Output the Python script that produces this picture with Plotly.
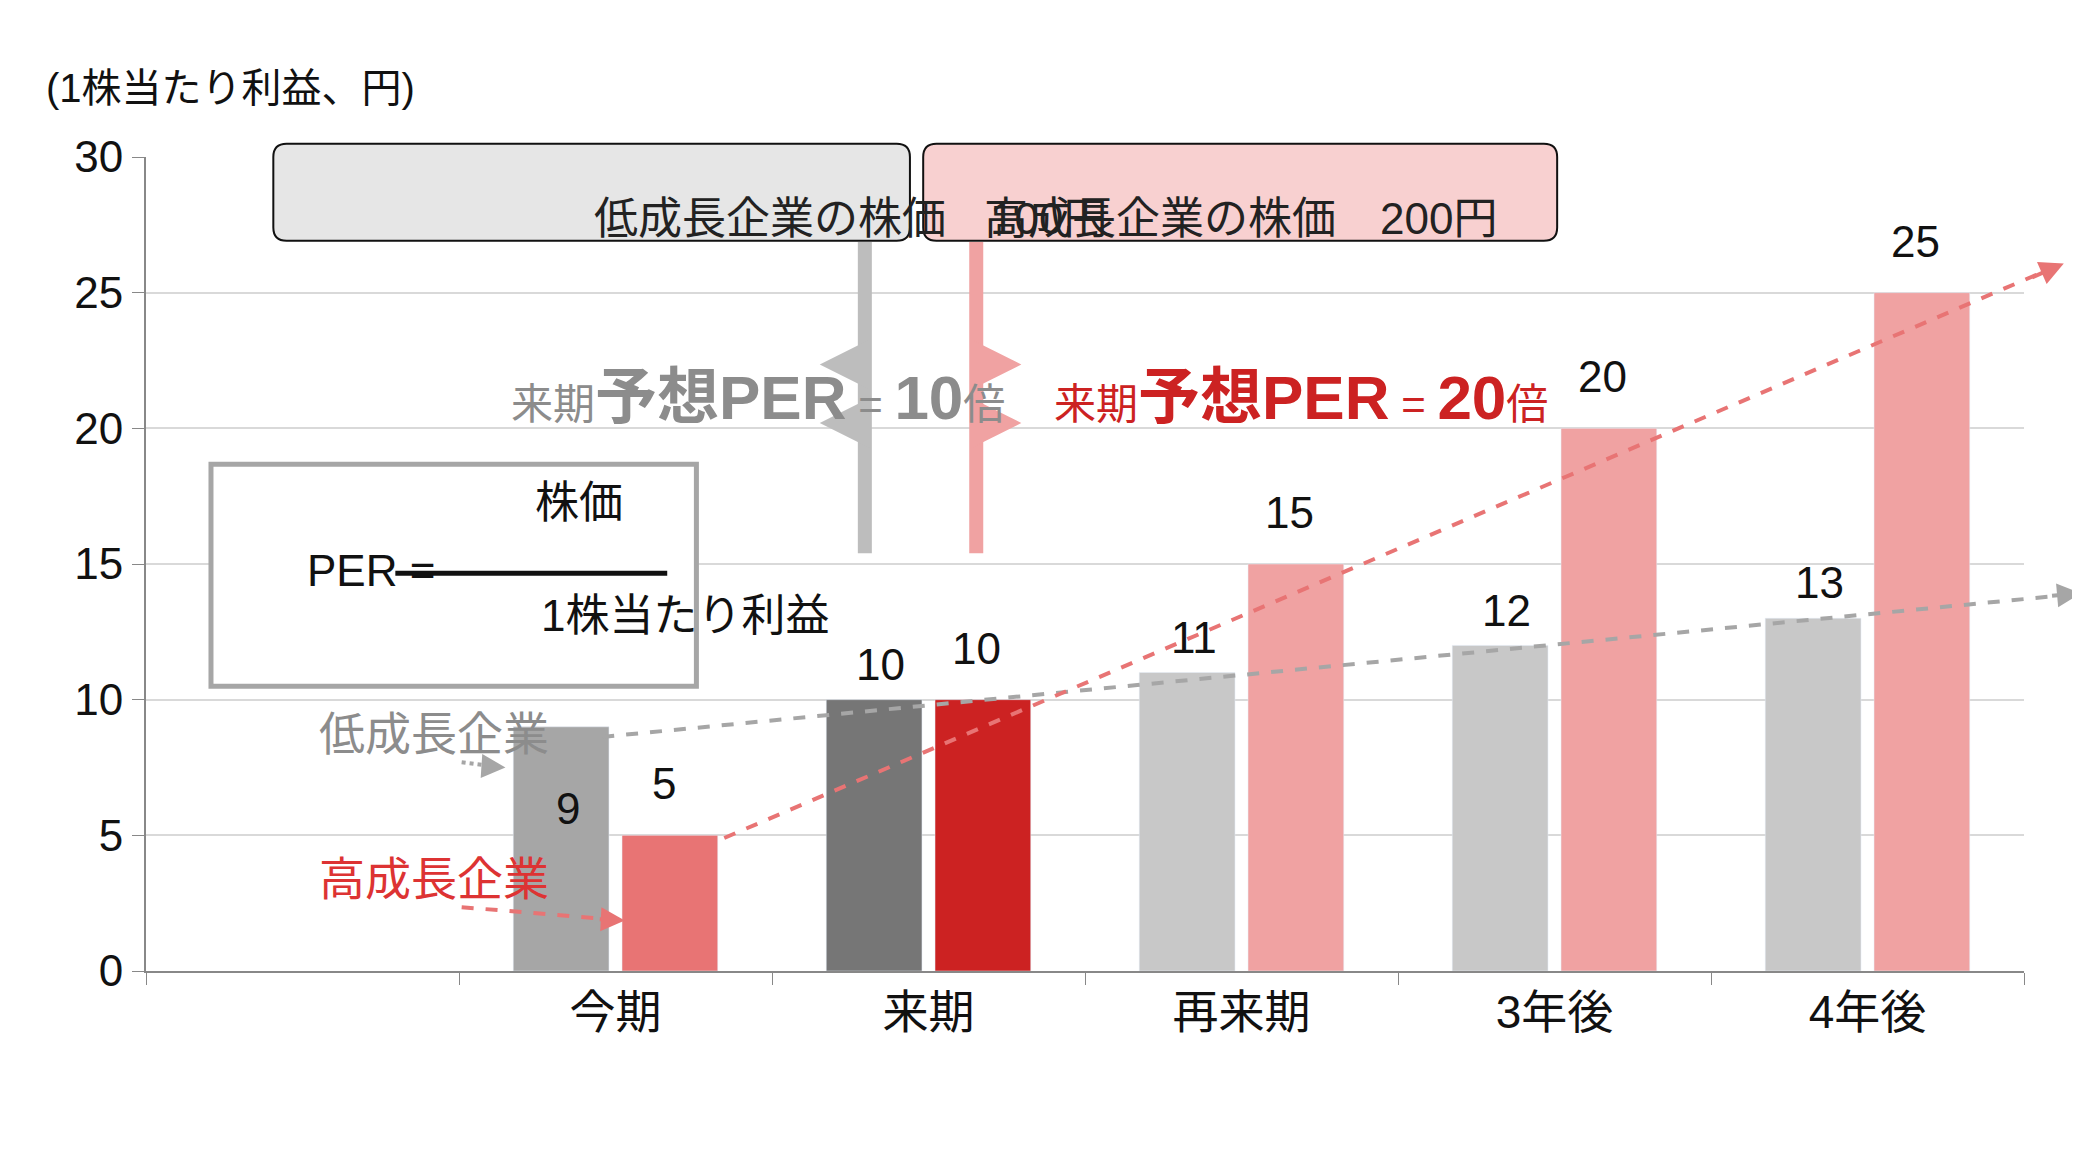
import plotly.graph_objects as go

categories = ["", "今期", "来期", "再来期", "3年後", "4年後"]
low_growth = [None, 9, 10, 11, 12, 13]
high_growth = [None, 5, 10, 15, 20, 25]
low_colors = ["#c8c8c8", "#a6a6a6", "#767676", "#c8c8c8", "#c8c8c8", "#c8c8c8"]
high_colors = ["#f0a2a2", "#e87474", "#cc2222", "#f0a2a2", "#f0a2a2", "#f0a2a2"]
y_ticks = [0, 5, 10, 15, 20, 25, 30]

FONT = "Liberation Sans, Arial, Noto Sans CJK JP"
X0, X1, Y0, Y1 = 104.0, 1520.0, 724.0, 112.0


def px(x):
    return (x - X0) / (X1 - X0)


def py(y):
    return (Y0 - y) / (Y0 - Y1)


def rrect(x0, y0, x1, y1, r=10):
    # rounded rectangle path in paper coordinates, from reference pixels
    rx = r / (X1 - X0)
    ry = r / (Y0 - Y1)
    a, b, c, d = px(x0), px(x1), py(y1), py(y0)
    return (f"M{a+rx},{c} L{b-rx},{c} Q{b},{c} {b},{c+ry} L{b},{d-ry} Q{b},{d} {b-rx},{d} "
            f"L{a+rx},{d} Q{a},{d} {a},{d-ry} L{a},{c+ry} Q{a},{c} {a+rx},{c} Z")


def arrow(x, y, ax, ay, color, width=4, size=1.2):
    return dict(xref="x domain", yref="y domain", axref="x domain", ayref="y domain",
                x=px(x), y=py(y), ax=px(ax), ay=py(ay), text="", showarrow=True,
                arrowhead=2, arrowsize=size, arrowwidth=width, arrowcolor=color)


fig = go.Figure()
fig.add_trace(go.Bar(x=categories, y=low_growth, marker_color=low_colors, name="低成長企業"))
fig.add_trace(go.Bar(x=categories, y=high_growth, marker_color=high_colors, name="高成長企業"))

shapes = []
ann = []

# dashed trend lines
shapes.append(dict(type="line", xref="paper", yref="paper", x0=px(448), y0=py(548), x1=px(1555), y1=py(441),
                   line=dict(color="#a6a6a6", width=4, dash="dash"), layer="above"))
shapes.append(dict(type="line", xref="paper", yref="paper", x0=px(540), y0=py(624), x1=px(1540), y1=py(196),
                   line=dict(color="#e87474", width=4, dash="dash"), layer="above"))
ann.append(arrow(1563, 440, 1540, 442, "#a6a6a6"))
ann.append(arrow(1550, 192, 1525, 203, "#e87474"))

# value labels
for i, c in enumerate(categories):
    if low_growth[i] is not None:
        yv = low_growth[i] + 1.3 if i != 1 else low_growth[i] - 3
        ann.append(dict(x=c, y=yv, text=str(low_growth[i]), showarrow=False, xshift=-48,
                        font=dict(size=44, color="#111")))
    if high_growth[i] is not None:
        ann.append(dict(x=c, y=high_growth[i] + 1.9, text=str(high_growth[i]), showarrow=False, xshift=48,
                        font=dict(size=44, color="#111")))

# price boxes
shapes.append(dict(type="path", xref="paper", yref="paper", path=rrect(200, 102, 680, 175),
                   fillcolor="#e6e6e6", line=dict(color="#111", width=2)))
shapes.append(dict(type="path", xref="paper", yref="paper", path=rrect(690, 102, 1168, 175),
                   fillcolor="#f8d0d0", line=dict(color="#111", width=2)))
ann.append(dict(xref="paper", yref="paper", x=px(440), y=py(138), text="低成長企業の株価　100円",
                showarrow=False, font=dict(size=44, color="#222")))
ann.append(dict(xref="paper", yref="paper", x=px(929), y=py(138), text="高成長企業の株価　200円",
                showarrow=False, font=dict(size=44, color="#222")))

# connector bars and hooks
shapes.append(dict(type="line", xref="paper", yref="paper", x0=px(646), y0=py(176), x1=px(646), y1=py(410),
                   line=dict(color="#bdbdbd", width=14)))
shapes.append(dict(type="line", xref="paper", yref="paper", x0=px(730), y0=py(176), x1=px(730), y1=py(410),
                   line=dict(color="#f0a2a2", width=14)))
for yy in (268, 312):
    ann.append(arrow(612, yy, 646, yy, "#bdbdbd", width=10, size=1))
    ann.append(arrow(764, yy, 730, yy, "#f0a2a2", width=10, size=1))

ann.append(dict(xref="paper", yref="paper", x=px(378), y=py(265),
                text="<span style='font-size:42px'>来期</span><b>予想PER</b><span style='font-size:42px'> = </span><b>10</b><span style='font-size:42px'>倍</span>",
                showarrow=False, font=dict(size=62, color="#8c8c8c")))
ann.append(dict(xref="paper", yref="paper", x=px(975), y=py(265),
                text="<span style='font-size:42px'>来期</span><b>予想PER</b><span style='font-size:42px'> = </span><b>20</b><span style='font-size:42px'>倍</span>",
                showarrow=False, font=dict(size=62, color="#cc2222")))

# PER formula box
shapes.append(dict(type="rect", xref="paper", yref="paper", x0=px(153), y0=py(510), x1=px(519), y1=py(343),
                   line=dict(color="#a6a6a6", width=5), fillcolor="white"))
shapes.append(dict(type="line", xref="paper", yref="paper", x0=px(292), y0=py(425), x1=px(497), y1=py(425),
                   line=dict(color="#111", width=5)))
ann.append(dict(xref="paper", yref="paper", x=px(224), y=py(423), text="PER =", showarrow=False,
                font=dict(size=44, color="#111")))
ann.append(dict(xref="paper", yref="paper", x=px(396), y=py(372), text="株価", showarrow=False,
                font=dict(size=44, color="#111")))
ann.append(dict(xref="paper", yref="paper", x=px(400), y=py(457), text="1株当たり利益", showarrow=False,
                font=dict(size=44, color="#111")))

# series labels
ann.append(dict(xref="paper", yref="paper", x=px(233), y=py(567), text="低成長企業", showarrow=False,
                font=dict(size=46, color="#8c8c8c")))
ann.append(dict(xref="paper", yref="paper", x=px(233), y=py(676), text="高成長企業", showarrow=False,
                font=dict(size=46, color="#dd3333")))
shapes.append(dict(type="line", xref="paper", yref="paper", x0=px(342), y0=py(567), x1=px(365), y1=py(570),
                   line=dict(color="#a6a6a6", width=4, dash="dot")))
ann.append(arrow(375, 571, 360, 570, "#a6a6a6"))
shapes.append(dict(type="line", xref="paper", yref="paper", x0=px(342), y0=py(676), x1=px(452), y1=py(685),
                   line=dict(color="#e87474", width=4, dash="dash")))
ann.append(arrow(465, 686, 445, 685, "#e87474"))

# axis title
ann.append(dict(xref="paper", yref="paper", x=px(27), y=py(42), xanchor="left", text="(1株当たり利益、円)",
                showarrow=False, font=dict(size=40, color="#111")))

fig.update_layout(
    width=2080, height=1170,
    margin=dict(l=138, r=64, t=149, b=207),
    paper_bgcolor="white", plot_bgcolor="white",
    font=dict(family=FONT, color="#111"),
    showlegend=False,
    barmode="group", bargap=0.305, bargroupgap=0.12,
    shapes=shapes, annotations=ann,
    xaxis=dict(type="category", showline=True, linecolor="#888", linewidth=2, ticks="outside", ticklen=12,
               tickcolor="#888", tickson="boundaries", tickfont=dict(size=46), showgrid=False),
    yaxis=dict(range=[0, 30], tickvals=y_ticks, showline=True, linecolor="#888", linewidth=2, ticks="outside",
               ticklen=12, tickcolor="#888", gridcolor="#d9d9d9", gridwidth=2, tickfont=dict(size=44),
               zeroline=False),
)

fig.write_html("out.html")
